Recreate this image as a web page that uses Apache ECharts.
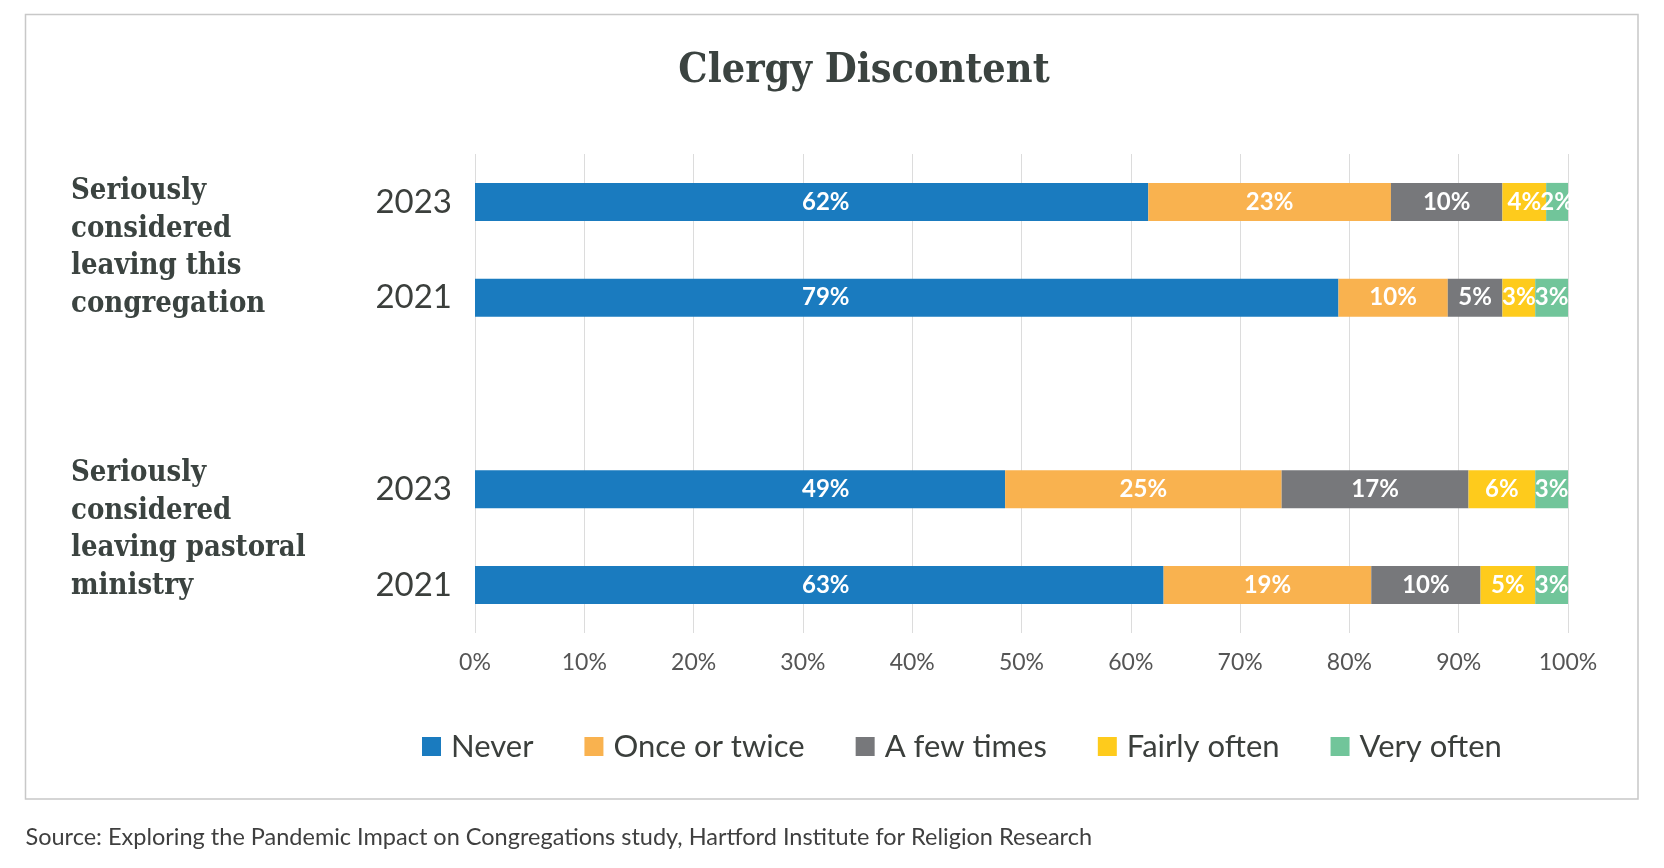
<!DOCTYPE html>
<html>
<head>
<meta charset="utf-8">
<script src="https://cdn.jsdelivr.net/npm/echarts@6/dist/echarts.min.js"></script>
<style>
html,body{margin:0;padding:0;background:#fff;}
#chart{width:1664px;height:868px;}
</style>
</head>
<body>
<div id="chart"></div>
<script>
// ---- data ----
var rowKeys = ['cong2023', 'cong2021', 'gap', 'past2023', 'past2021'];
var yearLabels = ['2023', '2021', '', '2023', '2021'];
var groupLabels = ['Seriously\nconsidered\nleaving this\ncongregation', 'Seriously\nconsidered\nleaving pastoral\nministry'];
var seriesNames = ['Never', 'Once or twice', 'A few times', 'Fairly often', 'Very often'];
var never       = [61.6, 79.0, null, 48.5, 63.0];
var onceOrTwice = [22.2, 10.0, null, 25.3, 19.0];
var aFewTimes   = [10.2,  5.0, null, 17.1, 10.0];
var fairlyOften = [ 4.0,  3.0, null,  6.1,  5.0];
var veryOften   = [ 2.0,  3.0, null,  3.0,  3.0];
var neverShown       = [62, 79, null, 49, 63];
var onceOrTwiceShown = [23, 10, null, 25, 19];
var aFewTimesShown   = [10,  5, null, 17, 10];
var fairlyOftenShown = [ 4,  3, null,  6,  5];
var veryOftenShown   = [ 2,  3, null,  3,  3];
var xTicks = [0, 10, 20, 30, 40, 50, 60, 70, 80, 90, 100];
var titleText = 'Clergy Discontent';
var sourceText = 'Source: Exploring the Pandemic Impact on Congregations study, Hartford Institute for Religion Research';

var colors = ['#1a7bbf', '#f9b24f', '#77787b', '#fecb1c', '#71c59a'];
var values = [never, onceOrTwice, aFewTimes, fairlyOften, veryOften];
var shown = [neverShown, onceOrTwiceShown, aFewTimesShown, fairlyOftenShown, veryOftenShown];

var sans = "Lato, 'Open Sans', sans-serif";
var slab = "'DejaVu Serif Condensed', 'DejaVu Serif', serif";

var chart = echarts.init(document.getElementById('chart'), null, {renderer: 'canvas'});

var series = seriesNames.map(function (name, si) {
  var lbl = {
    show: true,
    position: 'inside',
    color: '#ffffff',
    fontFamily: sans,
    fontWeight: 'bold',
    fontSize: 24,
    formatter: function (p) {
      var v = shown[si][p.dataIndex];
      return v == null ? '' : v + '%';
    }
  };
  if (si === 0) {
    lbl.position = 'insideLeft';
    lbl.distance = 327;
  }
  return {
    name: name,
    type: 'bar',
    stack: 'total',
    barWidth: 38,
    itemStyle: {color: colors[si]},
    label: lbl,
    emphasis: {disabled: true},
    data: values[si]
  };
});

chart.setOption({
  animation: false,
  backgroundColor: '#ffffff',
  grid: {left: 475, right: 96, top: 154, bottom: 235, containLabel: false},
  xAxis: {
    type: 'value',
    min: 0,
    max: 100,
    interval: 10,
    axisLine: {show: false},
    axisTick: {show: false},
    splitLine: {show: true, lineStyle: {color: '#dcdcdc', width: 1}},
    axisLabel: {
      margin: 18,
      color: '#555555',
      fontFamily: sans,
      fontSize: 23,
      formatter: function (v) { return xTicks.indexOf(v) >= 0 ? v + '%' : ''; }
    }
  },
  yAxis: {
    type: 'category',
    inverse: true,
    data: rowKeys,
    axisLine: {show: false},
    axisTick: {show: false},
    splitLine: {show: false},
    axisLabel: {
      margin: 23,
      color: '#3b3f3c',
      fontFamily: sans,
      fontSize: 33,
      formatter: function (v, i) { return yearLabels[i]; }
    }
  },
  legend: {
    left: 422,
    top: 731,
    padding: 0,
    icon: 'rect',
    itemWidth: 19,
    itemHeight: 19,
    itemGap: 51,
    data: seriesNames,
    textStyle: {
      color: '#3b3f3c',
      fontFamily: sans,
      fontSize: 31,
      padding: [0, 0, 0, 5]
    },
    selectedMode: false
  },
  graphic: [
    {
      type: 'rect',
      silent: true,
      shape: {x: 25.5, y: 14.5, width: 1612.5, height: 784.5},
      style: {fill: 'none', stroke: '#c8c8c8', lineWidth: 1.5}
    },
    {
      type: 'text',
      silent: true,
      x: 864,
      y: 71,
      style: {
        text: titleText,
        fill: '#3b4340',
        font: 'bold 41px ' + slab,
        textAlign: 'center',
        textVerticalAlign: 'middle'
      }
    },
    {
      type: 'text',
      silent: true,
      x: 71,
      y: 173,
      style: {
        text: groupLabels[0],
        fill: '#3b4340',
        font: 'bold 29px ' + slab,
        lineHeight: 37.5,
        textAlign: 'left',
        textVerticalAlign: 'top'
      }
    },
    {
      type: 'text',
      silent: true,
      x: 71,
      y: 455,
      style: {
        text: groupLabels[1],
        fill: '#3b4340',
        font: 'bold 29px ' + slab,
        lineHeight: 37.5,
        textAlign: 'left',
        textVerticalAlign: 'top'
      }
    },
    {
      type: 'text',
      silent: true,
      x: 25.5,
      y: 837,
      style: {
        text: sourceText,
        fill: '#3f3f3f',
        font: '23.5px ' + sans,
        textAlign: 'left',
        textVerticalAlign: 'middle'
      }
    }
  ],
  series: series
});
</script>
</body>
</html>
